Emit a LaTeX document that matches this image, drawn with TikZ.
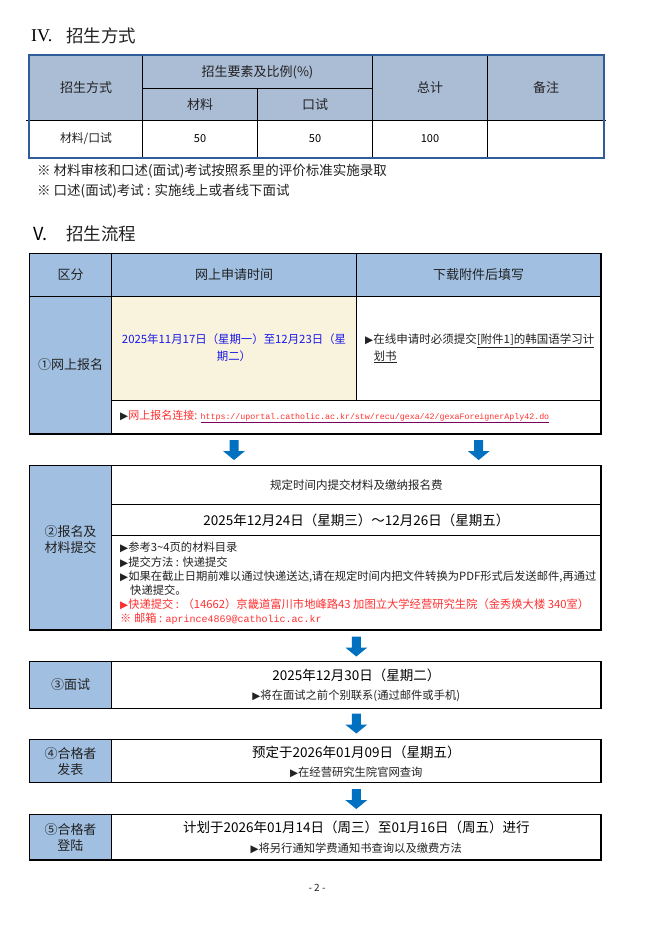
\documentclass[tikz,border=0pt]{standalone}
\usepackage{fontspec}
\setmainfont{Noto Sans CJK SC}
\newfontfamily\monofont{Liberation Mono}
\newfontfamily\romanfont{Liberation Serif}
\newfontfamily\dvfont{DejaVu Sans}
\usetikzlibrary{calc}
\definecolor{hdrA}{HTML}{ABBCD5}
\definecolor{bordA}{HTML}{2F5D99}
\definecolor{hdrB}{HTML}{A0BFE1}
\definecolor{cream}{HTML}{F9F2DC}
\definecolor{arrowblue}{HTML}{0070C0}
\definecolor{txtblue}{HTML}{1A1AE6}
\definecolor{txtred}{HTML}{FF3030}
\definecolor{urlline}{HTML}{7A0060}
\definecolor{txt}{HTML}{222222}
\newcommand{\fsz}[2]{\fontsize{#1}{#2}\selectfont}
\newcommand{\tri}{{\dvfont\fontsize{10.5}{10}\selectfont ▶}}
\tikzset{
  lbl/.style={inner sep=0pt, text=txt},
  hdr/.style={lbl, font=\fsz{13}{16}},
  body/.style={lbl, font=\fsz{11.3}{14}},
  big/.style={lbl, font=\fsz{13.5}{16}, text=black},
  blockname/.style={inner sep=0pt, outer sep=0pt, anchor=north west},
  blockline/.style={draw=black, line width=1.1pt},
  gridline/.style={draw=black, line width=1pt},
  pics/downarr/.style={code={\fill[arrowblue] (-4.5,0) -- (4.5,0) -- (4.5,11) -- (11,11) -- (0,20) -- (-11,11) -- (-4.5,11) -- cycle;}}
}
\begin{document}
\begin{tikzpicture}[x=1pt,y=-1pt]
\useasboundingbox[fill=white] (0,0) rectangle (664,940);

% ---------- Section IV ----------
\node[anchor=west, inner sep=0pt, font=\romanfont\fsz{18}{20}] (t4num) at (31,36) {IV.};
\node[anchor=west, lbl, font=\fsz{17.5}{20}] (t4) at (66,36) {招生方式};

\fill[hdrA] (29,55) rectangle (604,120.3);
\draw[gridline] (142.7,55) -- (142.7,158);
\draw[gridline] (372.3,55) -- (372.3,158);
\draw[gridline] (487.7,55) -- (487.7,158);
\draw[gridline] (257.5,88.3) -- (257.5,158);
\draw[gridline] (142.7,88.3) -- (372.3,88.3);
\draw[gridline] (26,120.3) -- (606,120.3);
\draw[draw=bordA, line width=1.8pt] (29,55) rectangle (604,158);
\node[blockname, minimum width=575pt, minimum height=103pt] (tab4) at (29,55) {};

\node[hdr] (h1) at (86,87.5) {招生方式};
\node[hdr] (h2) at (257.5,72) {招生要素及比例(\%)};
\node[hdr] (h3) at (200,104.5) {材料};
\node[hdr] (h4) at (315,104.5) {口试};
\node[hdr] (h5) at (430,87.5) {总计};
\node[hdr] (h6) at (546,87.5) {备注};
\node[lbl, font=\fsz{11.8}{14}] (d1) at (86,139) {材料/口试};
\node[lbl, font=\fsz{11}{14}, text=black] (d2) at (200,139) {50};
\node[lbl, font=\fsz{11}{14}, text=black] (d3) at (315,139) {50};
\node[lbl, font=\fsz{11}{14}, text=black] (d4) at (430,139) {100};

\node[lbl, anchor=west, font=\fsz{13.5}{16}] (n1) at (37,171.5) {※ 材料审核和口述(面试)考试按照系里的评价标准实施录取};
\node[lbl, anchor=west, font=\fsz{13.5}{16}] (n2) at (37,191.5) {※ 口述(面试)考试 : 实施线上或者线下面试};

% ---------- Section V ----------
\node[anchor=west, inner sep=0pt, font=\fsz{18}{20}, text=black] (t5num) at (33,234) {V.};
\node[anchor=west, lbl, font=\fsz{17.5}{20}] (t5) at (66,234) {招生流程};

% block 1
\fill[hdrB] (29.3,253.7) rectangle (601,296.3);
\fill[hdrB] (29.3,296.3) rectangle (111.7,434);
\fill[cream] (111.7,296.3) rectangle (356.3,400.3);
\draw[gridline] (111.7,253.7) -- (111.7,434);
\draw[gridline] (356.3,253.7) -- (356.3,400.3);
\draw[gridline] (29.3,296.3) -- (601,296.3);
\draw[gridline] (111.7,400.3) -- (601,400.3);
\draw[blockline] (29.3,253.7) rectangle (601,434);
\node[blockname, minimum width=571.7pt, minimum height=180.3pt] (blk1) at (29.3,253.7) {};

\node[hdr] (c0) at (70.5,275) {区分};
\node[hdr] (c1) at (234,275) {网上申请时间};
\node[hdr] (c2) at (478.7,275) {下载附件后填写};
\node[hdr] (s1) at (70.5,365) {①网上报名};
\node[lbl, text=txtblue, align=center, font=\fsz{11.4}{17.4}] (date1) at (234,347.5) {2025年11月17日（星期一）至12月23日（星\\期二）};
\node[lbl, anchor=west, font=\fsz{11.5}{14}] (att1) at (365,341) {\tri 在线申请时必须提交\underline{[附件1]的韩国语学习计}};
\node[lbl, anchor=west, font=\fsz{11.5}{14}] (att2) at (373.5,357) {\underline{划书}};
\node[lbl, anchor=west, font=\fsz{11}{14}] (url) at (120,416.7) {\tri{\color{txtred}网上报名连接: }{\color{urlline}\underline{\color{txtred}\monofont\fsz{8.3}{10}https://uportal.catholic.ac.kr/stw/recu/gexa/42/gexaForeignerAply42.do}}};

% arrows 1 -> 2
\pic at (234,440) {downarr};
\pic at (478.7,440) {downarr};

% block 2
\fill[hdrB] (29.3,465.7) rectangle (111.7,630);
\draw[gridline] (111.7,465.7) -- (111.7,630);
\draw[gridline] (111.7,504.3) -- (601,504.3);
\draw[gridline] (111.7,535.3) -- (601,535.3);
\draw[blockline] (29.3,465.7) rectangle (601,630);
\node[blockname, minimum width=571.7pt, minimum height=164.3pt] (blk2) at (29.3,465.7) {};

\node[hdr, align=center] (s2) at (70.5,540) {②报名及\\材料提交};
\node[lbl, font=\fsz{11.5}{14}] (r2a) at (356.3,485) {规定时间内提交材料及缴纳报名费};
\node[big] (r2b) at (356.3,520) {2025年12月24日（星期三）～12月26日（星期五）};
\node[body, anchor=west] (l1) at (120,547.3) {\tri 参考3\textasciitilde4页的材料目录};
\node[body, anchor=west] (l2) at (120,562.7) {\tri 提交方法 : 快递提交};
\node[body, anchor=west] (l3) at (120,576.5) {\tri 如果在截止日期前难以通过快递送达,请在规定时间内把文件转换为PDF形式后发送邮件,再通过};
\node[body, anchor=west] (l4) at (130,590.3) {快递提交。};
\node[body, anchor=west, text=txtred] (l5) at (120,604.2) {\tri 快递提交 : （14662）京畿道富川市地峰路43 加图立大学经营研究生院（金秀焕大楼 340室）};
\node[body, anchor=west, text=txtred] (l6) at (120,618.3) {※ 邮箱 : {\monofont\fsz{10}{12}aprince4869@catholic.ac.kr}};

% arrow 2 -> 3
\pic at (356.3,636.5) {downarr};

% block 3
\fill[hdrB] (29.3,661.7) rectangle (111.7,708.3);
\draw[gridline] (111.7,661.7) -- (111.7,708.3);
\draw[blockline] (29.3,661.7) rectangle (601,708.3);
\node[blockname, minimum width=571.7pt, minimum height=46.6pt] (blk3) at (29.3,661.7) {};
\node[hdr] (s3) at (70.5,685) {③面试};
\node[big] (r3a) at (356.3,675.5) {2025年12月30日（星期二）};
\node[body] (r3b) at (356.3,696) {\tri 将在面试之前个别联系(通过邮件或手机)};

% arrow 3 -> 4
\pic at (356.3,713.5) {downarr};

% block 4
\fill[hdrB] (29.3,739.7) rectangle (111.7,782.3);
\draw[gridline] (111.7,739.7) -- (111.7,782.3);
\draw[blockline] (29.3,739.7) rectangle (601,782.3);
\node[blockname, minimum width=571.7pt, minimum height=42.6pt] (blk4) at (29.3,739.7) {};
\node[hdr, align=center] (s4) at (70.5,761.3) {④合格者\\发表};
\node[big] (r4a) at (356.3,752) {预定于2026年01月09日（星期五）};
\node[body] (r4b) at (356.3,772) {\tri 在经营研究生院官网查询};

% arrow 4 -> 5
\pic at (356.3,789) {downarr};

% block 5
\fill[hdrB] (29.3,814.3) rectangle (111.7,860);
\draw[gridline] (111.7,814.3) -- (111.7,860);
\draw[blockline] (29.3,814.3) rectangle (601,860);
\node[blockname, minimum width=571.7pt, minimum height=45.7pt] (blk5) at (29.3,814.3) {};
\node[hdr, align=center] (s5) at (70.5,837.2) {⑤合格者\\登陆};
\node[big] (r5a) at (356.3,827.5) {计划于2026年01月14日（周三）至01月16日（周五）进行};
\node[body] (r5b) at (356.3,848.5) {\tri 将另行通知学费通知书查询以及缴费方法};

\node[lbl, font=\fsz{10}{12}] (pg) at (317,888) {- 2 -};
\end{tikzpicture}
\end{document}
